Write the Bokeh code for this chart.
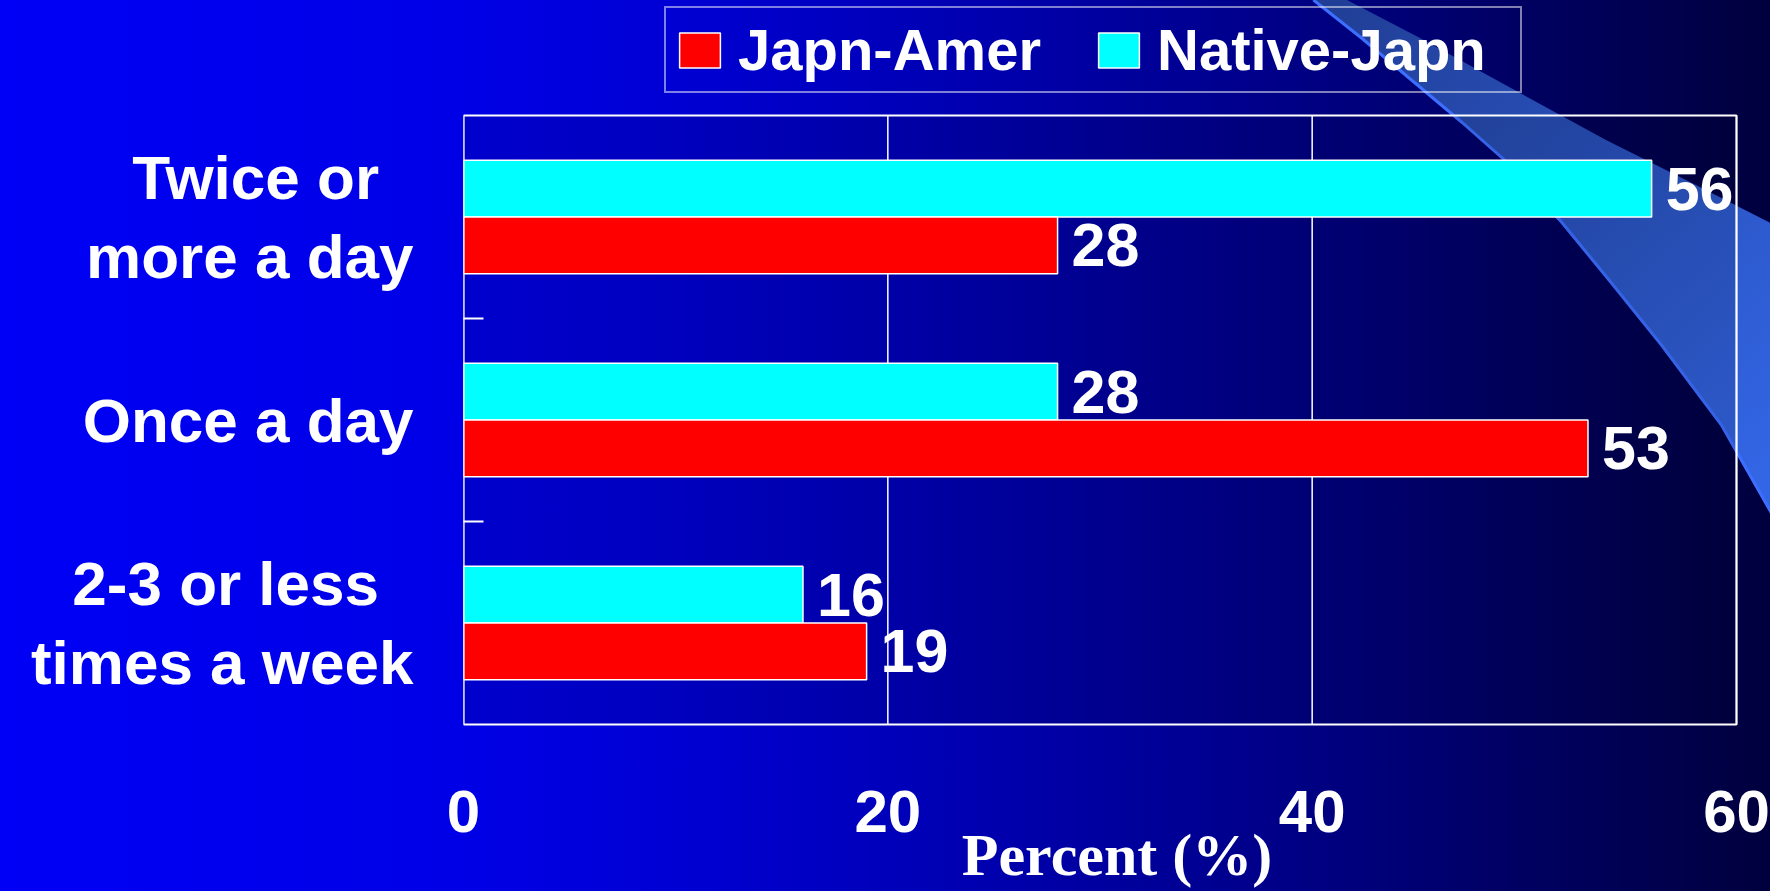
from urllib.parse import quote

from bokeh.plotting import figure
from bokeh.models import Range1d, FixedTicker, Legend, LegendItem, ColumnDataSource
from bokeh.core.properties import value
from bokeh.embed import file_html
from bokeh.resources import INLINE

# ---- data -------------------------------------------------------------
categories = ["Twice or\nmore a day", "Once a day", "2-3 or less\ntimes a week"]
japn_amer = [28, 53, 19]
native_japn = [56, 28, 16]
series_names = ["Japn-Amer", "Native-Japn"]
x_ticks = [0, 20, 40, 60]

# ---- styling / layout (pixels) -------------------------------------------
RED = "#FF0000"
CYAN = "#00FFFF"
SANS = "Liberation Sans"
SERIF = "Liberation Serif"
W, H = 1770, 891
FRAME_LEFT = 463          # left edge of the plotting box
BOX_RIGHT = 1736          # right edge of the plotting box
BOX_TOP, BOX_BOTTOM = 115, 724
FRAME_BOTTOM = 730        # the drawing frame reaches from the top of the page to here

n = len(categories)
x_max = x_ticks[-1]
centers = [n - 0.5 - i for i in range(n)]
bar_h = 0.28

# the frame covers the whole page above the x axis, so the legend sits inside it;
# ranges are chosen so that 0..x_max / 0..n land on the plotting box
px_x = (BOX_RIGHT - FRAME_LEFT) / x_max
px_y = (BOX_BOTTOM - BOX_TOP) / n
x_range = Range1d(0, x_max + (W - BOX_RIGHT) / px_x)
y_range = Range1d(-(FRAME_BOTTOM - BOX_BOTTOM) / px_y, n + BOX_TOP / px_y)

p = figure(width=W, height=H, x_range=x_range, y_range=y_range,
           output_backend="svg", toolbar_location=None,
           min_border_left=FRAME_LEFT, min_border_right=0,
           min_border_top=0, min_border_bottom=H - FRAME_BOTTOM)

# ---- slide backdrop: blue gradient plus a light swoosh at the top right ----
outer_edge = [(1347, 0), (1420, 38), (1500, 82), (1606, 140), (1690, 182), (1800, 238)]
inner_edge = [(1312, 0), (1360, 38), (1410, 80), (1460, 122), (1503, 160), (1560, 222),
              (1610, 283), (1660, 345), (1720, 425), (1770, 513), (1800, 575)]


def pts(seq):
    return " ".join("%g,%g" % q for q in seq)


swoosh_svg = (
    '<svg xmlns="http://www.w3.org/2000/svg" width="%d" height="%d">' % (W, H)
    + '<defs><linearGradient id="g" gradientUnits="userSpaceOnUse" x1="1330" y1="0" '
      'x2="1770" y2="480"><stop offset="0" stop-color="#203E96"/>'
      '<stop offset="1" stop-color="#3366E6"/></linearGradient></defs>'
    + '<polygon fill="url(#g)" points="%s"/>' % pts(outer_edge + inner_edge[::-1])
    + '<polyline fill="none" stroke="#3D6EFF" stroke-width="3" points="%s"/>'
      % pts([(x + 1.5, y) for x, y in inner_edge])
    + "</svg>"
)

p.styles = {
    "background-image": 'url("data:image/svg+xml,%s"), linear-gradient(to right, '
                        '#0000F6 0%%, #0000E6 26%%, #0000D4 38%%, #0000AE 56%%, '
                        '#000088 72%%, #000062 86%%, #00003E 100%%)' % quote(swoosh_svg),
    "background-repeat": "no-repeat",
}
p.border_fill_alpha = 0
p.background_fill_alpha = 0
p.outline_line_color = None
p.grid.grid_line_color = None

# ---- plotting box, grid lines -------------------------------------------
p.quad(left=0, right=x_max, bottom=0, top=n, fill_color="black", fill_alpha=0.1,
       line_color=None)
p.segment(x0=x_ticks, y0=[0] * len(x_ticks), x1=x_ticks, y1=[n] * len(x_ticks),
          line_color="white", line_width=1.5)

# ---- bars ---------------------------------------------------------------
src = ColumnDataSource(dict(
    cat=categories,
    y_na=[c + bar_h / 2 for c in centers],
    y_ja=[c - bar_h / 2 for c in centers],
    japn_amer=japn_amer,
    native_japn=native_japn,
    lab_na=[str(v) for v in native_japn],
    lab_ja=[str(v) for v in japn_amer],
))

r_na = p.hbar(y="y_na", right="native_japn", left=0, height=bar_h, source=src,
              fill_color=CYAN, line_color="white", line_width=1.5)
r_ja = p.hbar(y="y_ja", right="japn_amer", left=0, height=bar_h, source=src,
              fill_color=RED, line_color="white", line_width=1.5)

label_kw = dict(text_color="white", text_font=value(SANS), text_font_style="bold",
                text_font_size="61px", text_baseline="middle", text_align="left",
                x_offset=14)
p.text(x="native_japn", y="y_na", text="lab_na", source=src, **label_kw)
p.text(x="japn_amer", y="y_ja", text="lab_ja", source=src, **label_kw)

# border of the plotting box on top of everything
p.quad(left=0, right=x_max, bottom=0, top=n, fill_color=None,
       line_color="white", line_width=2)

# ---- axes ---------------------------------------------------------------
xa = p.xaxis[0]
xa.ticker = FixedTicker(ticks=x_ticks)
xa.axis_line_color = None
xa.major_tick_in = 0
xa.major_tick_out = 0
xa.minor_tick_line_color = None
xa.major_label_standoff = 60
xa.major_label_text_font = SANS
xa.major_label_text_font_style = "bold"
xa.major_label_text_font_size = "60px"
xa.major_label_text_color = "white"
xa.axis_label = "Percent (%)"
xa.axis_label_text_font = SERIF
xa.axis_label_text_font_style = "bold"
xa.axis_label_text_font_size = "60px"
xa.axis_label_text_color = "white"
xa.axis_label_standoff = -13


def centred_lines(label, pad="\u00a0\u00a0"):
    # pad the shorter line so both lines sit centred over each other
    lines = label.split("\n")
    if len(lines) == 1:
        return label
    longest = max(len(s) for s in lines)
    return "\n".join(s + pad if len(s) < longest else s for s in lines)


ya = p.yaxis[0]
ya.ticker = FixedTicker(ticks=centers, minor_ticks=list(range(1, n)))
ya.major_label_overrides = {c: centred_lines(lab) for c, lab in zip(centers, categories)}
ya.axis_line_color = None
ya.major_tick_in = 0
ya.major_tick_out = 0
ya.minor_tick_in = 20
ya.minor_tick_out = 0
ya.minor_tick_line_color = "white"
ya.minor_tick_line_width = 2
ya.major_label_standoff = 50
ya.major_label_text_font = SANS
ya.major_label_text_font_style = "bold"
ya.major_label_text_font_size = "62px"
ya.major_label_text_color = "white"
ya.major_label_text_line_height = 1.15

# ---- legend (inside the frame, above the plotting box) -------------------
legend = Legend(items=[LegendItem(label=series_names[0], renderers=[r_ja]),
                       LegendItem(label=series_names[1], renderers=[r_na])],
                location=(201, FRAME_BOTTOM - 93), orientation="horizontal",
                glyph_width=51, glyph_height=44, label_standoff=13, spacing=0,
                padding=8, margin=0, label_width=355,
                label_text_font=SANS, label_text_font_style="bold",
                label_text_font_size="58px", label_text_color="white",
                border_line_color="white", border_line_width=2,
                background_fill_alpha=0)
p.add_layout(legend, "center")

open("out.html", "w").write(file_html(p, INLINE))
